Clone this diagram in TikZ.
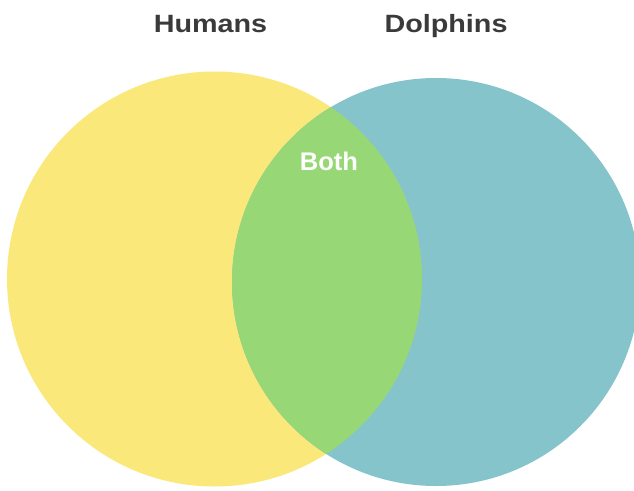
\documentclass[tikz,border=0pt]{standalone}
\usepackage{fontspec}
\setmainfont{Liberation Sans}
\definecolor{hyellow}{RGB}{250,233,122}
\definecolor{dblue}{RGB}{134,196,204}
\definecolor{bgreen}{RGB}{152,215,117}
\definecolor{ttext}{RGB}{58,58,58}
\tikzset{
  title/.style={anchor=base, text=ttext, font=\fontsize{25}{30}\selectfont\bfseries, inner sep=0pt, xscale=1.15},
  bothlabel/.style={anchor=base, text=white, font=\fontsize{25.5}{30}\selectfont\bfseries, inner sep=0pt},
}
\begin{document}
\begin{tikzpicture}[x=1pt,y=-1pt]
\useasboundingbox (0,0) rectangle (634,490);
\fill[white] (0,0) rectangle (634,490);
\begin{scope}
\clip (0,0) rectangle (634,490);
\fill[hyellow] (214.5,279) circle[radius=207.5];
\fill[dblue] (436,282) circle[radius=204];
\begin{scope}
\clip (214.5,279) circle[radius=207.5];
\fill[bgreen] (436,282) circle[radius=204];
\end{scope}
\end{scope}
\node[title] (humans) at (210.5,32) {Humans};
\node[title] (dolphins) at (446,32) {Dolphins};
\node[bothlabel] (both) at (329,170) {Both};
\end{tikzpicture}
\end{document}
